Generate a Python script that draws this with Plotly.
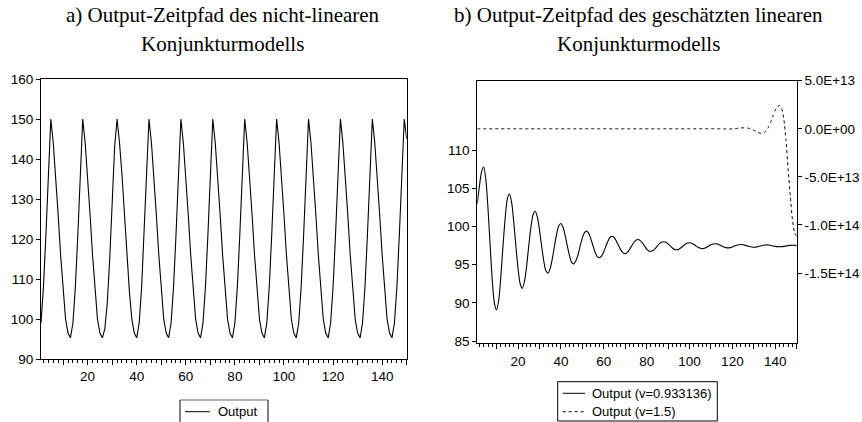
import plotly.graph_objects as go

W, H = 862, 422

# ---------------- data ----------------
periods = list(range(1, 151))

output_nonlinear = [
    99, 108, 121, 137, 150,
    144, 136, 126, 116, 107, 100, 96.5, 95.3, 99, 108, 121, 137, 150,
    144, 136, 126, 116, 107, 100, 96.5, 95.3, 97.5, 104, 115, 129, 143, 150,
    144, 136, 126, 116, 107, 100, 96.5, 95.3, 99, 108, 121, 137, 150,
    144, 136, 126, 116, 107, 100, 96.5, 95.3, 99, 108, 121, 137, 150,
    144, 136, 126, 116, 107, 100, 96.5, 95.3, 99, 108, 121, 137, 150,
    144, 136, 126, 116, 107, 100, 96.5, 95.3, 99, 108, 121, 137, 150,
    144, 136, 126, 116, 107, 100, 96.5, 95.3, 99, 108, 121, 137, 150,
    144, 136, 126, 116, 107, 100, 96.5, 95.3, 99, 108, 121, 137, 150,
    144, 136, 126, 116, 107, 100, 96.5, 95.3, 99, 108, 121, 137, 150,
    144, 136, 126, 116, 107, 100, 96.5, 95.3, 99, 108, 121, 137, 150,
    144, 136, 126, 116, 107, 100, 96.5, 95.3, 99, 108, 121, 137, 150,
    145,
]

output_v0933136 = [
    103, 105.3, 107.2, 107.8,
    106.1, 102.3, 97.5, 92.9, 89.9, 89.1,
    90.4, 93.5, 97.5, 101.1, 103.6, 104.25,
    103.2, 100.6, 97.45, 94.5, 92.5, 91.9,
    92.8, 94.8, 97.45, 99.9, 101.5, 102.0,
    101.25, 99.55, 97.45, 95.5, 94.2, 93.9,
    94.5, 95.8, 97.45, 99.0, 100.1, 100.4,
    99.9, 98.8, 97.45, 96.2, 95.3, 95.1,
    95.5, 96.3, 97.45, 98.5, 99.2, 99.4,
    99.1, 98.35, 97.45, 96.6, 96.05, 95.9,
    96.15, 96.7, 97.45, 98.1, 98.6, 98.7,
    98.5, 98.0, 97.45, 96.9, 96.55, 96.45,
    96.6, 97.0, 97.45, 97.9, 98.2, 98.3,
    98.15, 97.85, 97.45, 97.05, 96.8, 96.75,
    96.85, 97.1, 97.45, 97.75, 97.95, 98.0,
    97.95, 97.73, 97.45, 97.18, 97.0, 96.95,
    97.02, 97.21, 97.45, 97.67, 97.83, 97.87,
    97.8, 97.65, 97.45, 97.27, 97.14, 97.1,
    97.15, 97.28, 97.45, 97.6, 97.71, 97.75,
    97.71, 97.6, 97.45, 97.33, 97.23, 97.2,
    97.23, 97.33, 97.45, 97.55, 97.62, 97.65,
    97.62, 97.54, 97.45, 97.37, 97.31, 97.28,
    97.3, 97.37, 97.45, 97.52, 97.57, 97.59,
    97.57, 97.52, 97.45, 97.4, 97.36, 97.34,
    97.36, 97.4, 97.45, 97.5, 97.53, 97.54,
    97.53, 97.5,
]

output_v15 = [0.0] * 115 + [
    -0.01e13, -0.02e13, -0.02e13, -0.02e13, -0.01e13, 0.0, 0.04e13, 0.07e13, 0.09e13, 0.1e13,
    0.1e13, 0.08e13, 0.03e13, -0.05e13, -0.15e13, -0.27e13, -0.38e13, -0.46e13, -0.49e13, -0.4e13,
    -0.15e13, 0.25e13, 0.8e13, 1.4e13, 1.95e13, 2.3e13, 2.42e13, 2.1e13, 1.0e13, -1.2e13,
    -4.2e13, -7.0e13, -9.4e13, -10.8e13, -11.2e13,
]

x_major_ticks = list(range(10, 151, 10))
x_major_labels = ["" if v % 20 else str(v) for v in x_major_ticks]
left_y_ticks = [90, 100, 110, 120, 130, 140, 150, 160]
right_y_ticks = [85, 90, 95, 100, 105, 110]
right_y2_ticks = [-1.5e14, -1.0e14, -5.0e13, 0.0, 5.0e13]
right_y2_labels = ["-1.5E+14", "-1.0E+14", "-5.0E+13", "0.0E+00", "5.0E+13"]

title_a = ["a) Output-Zeitpfad des nicht-linearen", "Konjunkturmodells"]
title_b = ["b) Output-Zeitpfad des geschätzten linearen", "Konjunkturmodells"]
legend_a = "Output"
legend_b = ["Output (v=0.933136)", "Output (v=1.5)"]

# ---------------- helpers ----------------
def px(x):
    return x / W

def py(y):
    return 1 - y / H

TICKFONT = dict(family="Liberation Sans, Arial, sans-serif", size=13.5, color="black")
LINE = dict(color="black", width=1)

fig = go.Figure()

fig.add_trace(go.Scatter(x=periods, y=output_nonlinear, mode="lines",
                         line=dict(color="black", width=1.1), xaxis="x", yaxis="y",
                         name=legend_a, showlegend=False))
fig.add_trace(go.Scatter(x=periods, y=output_v0933136, mode="lines",
                         line=dict(color="black", width=1.1, shape="spline", smoothing=0.8),
                         xaxis="x2", yaxis="y2", name=legend_b[0], showlegend=False))
fig.add_trace(go.Scatter(x=periods, y=output_v15, mode="lines",
                         line=dict(color="black", width=1, dash="3px,3px", shape="spline", smoothing=0.6),
                         xaxis="x2", yaxis="y3", name=legend_b[1], showlegend=False))

xaxis_common = dict(
    showgrid=False, zeroline=False, showline=True, linecolor="black", linewidth=1,
    mirror=True, ticks="outside", ticklen=5, tickwidth=1, tickcolor="black",
    tickmode="array", tickvals=x_major_ticks, ticktext=x_major_labels,
    tickfont=TICKFONT, automargin=False,
    minor=dict(ticks="outside", ticklen=3, tickwidth=1, tickcolor="black",
               tickmode="linear", tick0=0, dtick=2, showgrid=False),
)

fig.update_layout(
    width=W, height=H, margin=dict(l=0, r=0, t=0, b=0),
    paper_bgcolor="white", plot_bgcolor="white", template="none",
    showlegend=False,
    xaxis=dict(domain=[px(41), px(406.7)], range=[1, 150], anchor="y", **xaxis_common),
    yaxis=dict(domain=[py(359), py(79)], range=[90, 160], anchor="x",
               showgrid=False, zeroline=False, showline=True, linecolor="black",
               linewidth=1, mirror=True, ticks="outside", ticklen=4,
               tickcolor="black", tickmode="array", tickvals=left_y_ticks,
               tickfont=TICKFONT, automargin=False),
    xaxis2=dict(domain=[px(477.3), px(796.7)], range=[1, 150], anchor="y2", **xaxis_common),
    yaxis2=dict(domain=[py(343.3), py(80.7)], range=[84.7, 119.1], anchor="x2",
                showgrid=False, zeroline=False, showline=True, linecolor="black",
                linewidth=1, mirror=True, ticks="outside", ticklen=4,
                tickcolor="black", tickmode="array", tickvals=right_y_ticks,
                tickfont=TICKFONT, automargin=False),
    yaxis3=dict(overlaying="y2", side="right", anchor="x2", range=[-2.23e14, 5.0e13],
                showgrid=False, zeroline=False, showline=False, ticks="outside",
                ticklen=4, tickcolor="black", tickmode="array",
                tickvals=right_y2_ticks, ticktext=right_y2_labels,
                tickfont=TICKFONT, automargin=False),
)

# titles
TFONT = dict(family="Liberation Serif, Times New Roman, serif", size=21, color="black")
annotations = []
for cx, lines in ((222.5, title_a), (638, title_b)):
    for i, txt in enumerate(lines):
        annotations.append(dict(x=px(cx), y=py(15 + 29 * i), xref="paper", yref="paper",
                                text=txt, showarrow=False, xanchor="center",
                                yanchor="middle", font=TFONT))

LFONT = dict(family="Liberation Sans, Arial, sans-serif", size=13, color="black")
# left legend
annotations.append(dict(x=px(216), y=py(411.7), xref="paper", yref="paper", text=legend_a,
                        showarrow=False, xanchor="left", yanchor="middle", font=LFONT))
# right legend
annotations.append(dict(x=px(590), y=py(393.3), xref="paper", yref="paper", text=legend_b[0],
                        showarrow=False, xanchor="left", yanchor="middle", font=LFONT))
annotations.append(dict(x=px(590), y=py(411.7), xref="paper", yref="paper", text=legend_b[1],
                        showarrow=False, xanchor="left", yanchor="middle", font=LFONT))

shapes = [
    # left legend box (cut at bottom)
    dict(type="line", xref="paper", yref="paper", x0=px(180), x1=px(180), y0=py(400), y1=py(423), line=LINE),
    dict(type="line", xref="paper", yref="paper", x0=px(268), x1=px(268), y0=py(400), y1=py(423), line=LINE),
    dict(type="line", xref="paper", yref="paper", x0=px(180), x1=px(268), y0=py(400), y1=py(400), line=dict(color="black", width=0.6)),
    dict(type="line", xref="paper", yref="paper", x0=px(185), x1=px(210), y0=py(411.7), y1=py(411.7), line=LINE),
    # right legend box
    dict(type="rect", xref="paper", yref="paper", x0=px(557.7), x1=px(717.3), y0=py(421), y1=py(381.7), line=LINE),
    dict(type="line", xref="paper", yref="paper", x0=px(562.7), x1=px(585), y0=py(393.3), y1=py(393.3), line=LINE),
    dict(type="line", xref="paper", yref="paper", x0=px(562.7), x1=px(585), y0=py(411.7), y1=py(411.7),
         line=dict(color="black", width=1, dash="3px,3px")),
]

fig.update_layout(annotations=annotations, shapes=shapes)

fig.write_html("out.html")
